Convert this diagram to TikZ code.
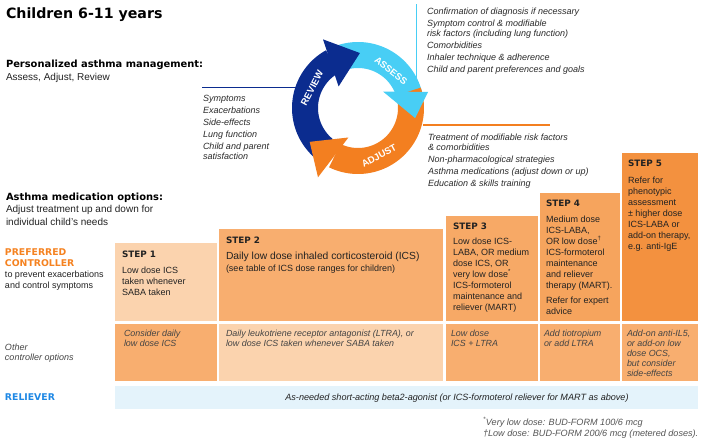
\documentclass[tikz,border=0pt]{standalone}
\usepackage{fontspec}
\setmainfont{Liberation Sans}
\newfontfamily\heavy{DejaVu Sans}
\definecolor{navy}{HTML}{0B2C8F}
\definecolor{cyanA}{HTML}{48CEF5}
\definecolor{orangeA}{HTML}{F37F20}
\definecolor{peachL}{HTML}{FBD3AE}
\definecolor{peachM}{HTML}{F8AE6F}
\definecolor{peachT}{HTML}{F7A966}
\definecolor{peachF}{HTML}{F6A45D}
\definecolor{peachV}{HTML}{F3913F}
\definecolor{relblue}{HTML}{E4F3FB}
\definecolor{prefor}{HTML}{F58220}
\definecolor{relt}{HTML}{1E88E5}
\definecolor{txtdark}{HTML}{222222}
\definecolor{lowtxt}{HTML}{444444}
\definecolor{lsttxt}{HTML}{2A2A2A}
\definecolor{foot}{HTML}{555555}
\begin{document}
\begin{tikzpicture}[x=1pt,y=-1pt,
  txtb/.style={anchor=base west, inner sep=0pt, outer sep=0pt, align=left},
  boxr/.style={anchor=north west, inner sep=0pt, outer sep=0pt, draw=none},
  bxt/.style={txtb, font=\fontsize{9}{11}\selectfont, text=txtdark},
  hdt/.style={txtb, font=\heavy\bfseries\fontsize{8.8}{10}\selectfont, text=txtdark},
  lowt/.style={txtb, font=\itshape\fontsize{8.9}{10}\selectfont, text=lowtxt},
  lstt/.style={txtb, font=\itshape\fontsize{9}{9.6}\selectfont, text=lsttxt},
  subt/.style={txtb, font=\fontsize{10}{12.5}\selectfont, text=txtdark},
  sect/.style={txtb, font=\heavy\bfseries\fontsize{9.9}{12}\selectfont, text=black},
  arrt/.style={font=\bfseries\fontsize{9.5}{10}\selectfont, text=white, inner sep=0pt}
]
\useasboundingbox (0,0) rectangle (710,442);
\fill[white] (0,0) rectangle (710,442);

% titles
\node[txtb, font=\heavy\bfseries\fontsize{14.2}{16}\selectfont] (title) at (6,18) {Children 6-11 years};
\node[sect] (pam) at (6,67) {Personalized asthma management:};
\node[subt] (aar) at (6,80) {Assess, Adjust, Review};

% callout lines
\coordinate (bl1) at (202,87); \coordinate (bl2) at (296,87);
\draw[navy, line width=1pt] (bl1) -- (bl2);
\coordinate (cl1) at (416,4); \coordinate (cl2) at (416,94);
\draw[cyanA, line width=1pt] (cl1) -- (cl2);
\coordinate (ol1) at (423,125); \coordinate (ol2) at (550,125);
\draw[orangeA, line width=1.2pt] (ol1) -- (ol2);

% cycle
\begin{scope}[shift={(358,108)}, yscale=-1]
  \fill[navy] plot[domain=231:119, samples=50] (\x:66) -- plot[domain=119:231, samples=50] (\x:40) -- cycle;
  \fill[cyanA] plot[domain=112:13, samples=50] (\x:66) -- plot[domain=13:112, samples=50] (\x:40) -- cycle;
  \fill[orangeA] plot[domain=18:-116, samples=50] (\x:66) -- plot[domain=-116:18, samples=50] (\x:40) -- cycle;
  \fill[navy] (117:77) -- (88:55) -- (132:29) -- cycle;
  \fill[cyanA] (13:72) -- (-10:58) -- (33:30) -- cycle;
  \fill[orangeA] (240:80) -- (215:59) -- (252:31) -- cycle;
\end{scope}
\node[arrt, rotate=62] (rev) at (312,88) {REVIEW};
\node[arrt, rotate=-38] (ass) at (391,71) {ASSESS};
\node[arrt, rotate=28] (adj) at (379,156) {ADJUST};

% lists (anchor = baseline of last line)
\node[lstt] (revl) at (203,159) {Symptoms\\[2.4pt]Exacerbations\\[2.4pt]Side-effects\\[2.4pt]Lung function\\[2.4pt]Child and parent\\satisfaction};
\node[lstt] (assl) at (427,72) {Confirmation of diagnosis if necessary\\[2.4pt]Symptom control \& modifiable\\risk factors (including lung function)\\[2.4pt]Comorbidities\\[2.4pt]Inhaler technique \& adherence\\[2.4pt]Child and parent preferences and goals};
\node[lstt] (adjl) at (428,186) {Treatment of modifiable risk factors\\\& comorbidities\\[2.4pt]Non-pharmacological strategies\\[2.4pt]Asthma medications (adjust down or up)\\[2.4pt]Education \& skills training};

% medication options
\node[sect] (amo) at (6,200) {Asthma medication options:};
\node[subt] (atu) at (6,225.2) {Adjust treatment up and down for\\individual child's needs};

\node[txtb, font=\heavy\bfseries\fontsize{9.3}{11}\selectfont, text=prefor] (pc) at (5,266) {PREFERRED\\CONTROLLER};
\node[txtb, font=\fontsize{9}{11}\selectfont, text=txtdark] (pcs) at (5,288.5) {to prevent exacerbations\\and control symptoms};
\node[txtb, font=\itshape\fontsize{9}{10}\selectfont, text=lowtxt] (oco) at (5,360) {Other\\controller options};
\node[txtb, font=\heavy\bfseries\fontsize{9.3}{11}\selectfont, text=relt] (rel) at (5,400.5) {RELIEVER};

% step boxes (upper)
\node[boxr, fill=peachL, minimum width=102pt, minimum height=78pt] (s1u) at (115,243) {};
\node[boxr, fill=peachM, minimum width=224pt, minimum height=92pt] (s2u) at (219,229) {};
\node[boxr, fill=peachT, minimum width=92pt, minimum height=105pt] (s3u) at (446,216) {};
\node[boxr, fill=peachF, minimum width=80pt, minimum height=128pt] (s4u) at (540,193) {};
\node[boxr, fill=peachV, minimum width=76pt, minimum height=168pt] (s5u) at (622,153) {};
% lower
\node[boxr, fill=peachM, minimum width=102pt, minimum height=57pt] (s1l) at (115,324) {};
\node[boxr, fill=peachL, minimum width=224pt, minimum height=57pt] (s2l) at (219,324) {};
\node[boxr, fill=peachM, minimum width=92pt, minimum height=57pt] (s3l) at (446,324) {};
\node[boxr, fill=peachM, minimum width=80pt, minimum height=57pt] (s4l) at (540,324) {};
\node[boxr, fill=peachM, minimum width=76pt, minimum height=57pt] (s5l) at (622,324) {};
% reliever
\node[boxr, fill=relblue, minimum width=583pt, minimum height=23pt] (relb) at (115,386) {};

% step texts
\node[hdt] (h1) at (122,257) {STEP 1};
\node[bxt] (t1) at (122,295) {Low dose ICS\\taken whenever\\SABA taken};
\node[hdt] (h2) at (226,243) {STEP 2};
\node[txtb, font=\fontsize{10.3}{12}\selectfont, text=txtdark] (t2a) at (226,259.5) {Daily low dose inhaled corticosteroid (ICS)};
\node[bxt] (t2b) at (226,271.5) {(see table of ICS dose ranges for children)};
\node[hdt] (h3) at (453,229.5) {STEP 3};
\node[bxt] (t3) at (453,310.5) {Low dose ICS-\\LABA, OR medium\\dose ICS, OR\\very low dose\textsuperscript{*}\\ICS-formoterol\\maintenance and\\reliever (MART)};
\node[hdt] (h4) at (546,206.5) {STEP 4};
\node[bxt] (t4) at (546,314.5) {Medium dose\\ICS-LABA,\\OR low dose\textsuperscript{†}\\ICS-formoterol\\maintenance\\and reliever\\therapy (MART).\\[4pt]Refer for expert\\advice};
\node[hdt] (h5) at (628,166.5) {STEP 5};
\node[bxt] (t5) at (628,249.5) {Refer for\\phenotypic\\assessment\\± higher dose\\ICS-LABA or\\add-on therapy,\\e.g. anti-IgE};

% lower texts
\node[lowt] (l1) at (124,346) {Consider daily\\low dose ICS};
\node[lowt] (l2) at (226,346) {Daily leukotriene receptor antagonist (LTRA), or\\low dose ICS taken whenever SABA taken};
\node[lowt] (l3) at (451,346) {Low dose\\ICS + LTRA};
\node[lowt] (l4) at (544,346) {Add tiotropium\\or add LTRA};
\node[lowt] (l5) at (627,376) {Add-on anti-IL5,\\or add-on low\\dose OCS,\\but consider\\side-effects};

\node[anchor=base, inner sep=0pt, font=\itshape\fontsize{9.1}{10}\selectfont, text=txtdark] (relt) at (457,400) {As-needed short-acting beta2-agonist (or ICS-formoterol reliever for MART as above)};

% footnotes
\node[txtb, font=\itshape\fontsize{9.1}{11}\selectfont, text=foot] (fn) at (483,436) {\textsuperscript{*}Very low dose: BUD-FORM 100/6 mcg\\†Low dose: BUD-FORM 200/6 mcg (metered doses).};
\end{tikzpicture}
\end{document}
